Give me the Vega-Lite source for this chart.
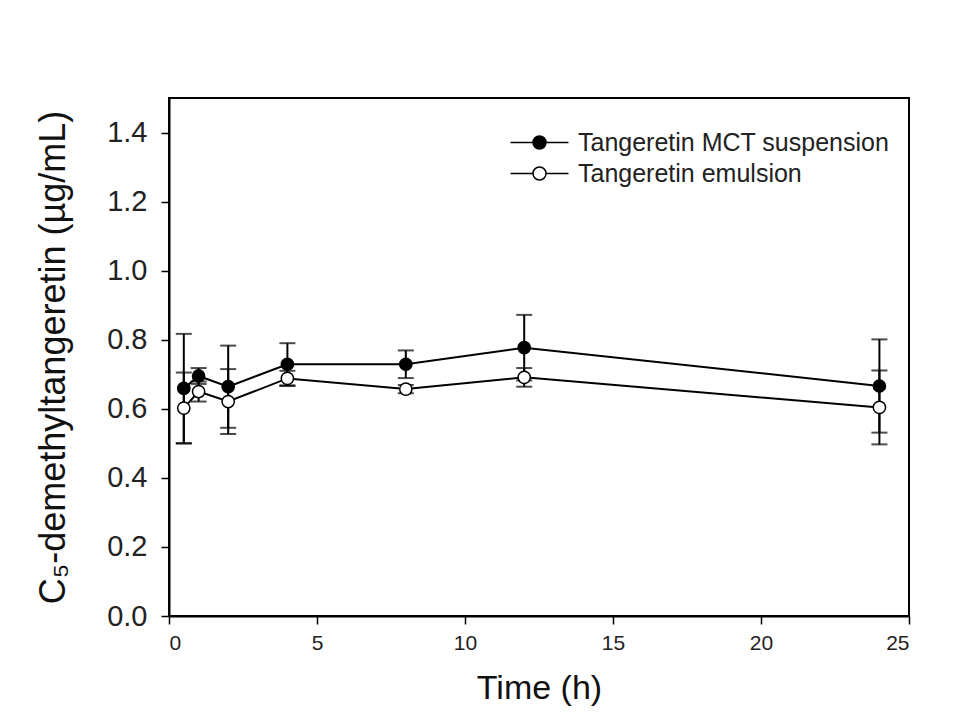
{
  "$schema": "https://vega.github.io/schema/vega-lite/v6.json",
  "width": 740,
  "height": 518,
  "autosize": {"type": "none"},
  "padding": {"left": 169, "top": 98, "right": 63, "bottom": 108},
  "background": "white",
  "config": {
    "view": {"stroke": "black", "strokeWidth": 2},
    "font": "Liberation Sans"
  },
  "data": {
    "values": [
      {"time": 0.5, "series": "Tangeretin MCT suspension", "mean": 0.659, "sd": 0.158},
      {"time": 1, "series": "Tangeretin MCT suspension", "mean": 0.695, "sd": 0.023},
      {"time": 2, "series": "Tangeretin MCT suspension", "mean": 0.664, "sd": 0.119},
      {"time": 4, "series": "Tangeretin MCT suspension", "mean": 0.729, "sd": 0.061},
      {"time": 8, "series": "Tangeretin MCT suspension", "mean": 0.729, "sd": 0.04},
      {"time": 12, "series": "Tangeretin MCT suspension", "mean": 0.777, "sd": 0.095},
      {"time": 24, "series": "Tangeretin MCT suspension", "mean": 0.666, "sd": 0.135},
      {"time": 0.5, "series": "Tangeretin emulsion", "mean": 0.602, "sd": 0.103},
      {"time": 1, "series": "Tangeretin emulsion", "mean": 0.65, "sd": 0.029},
      {"time": 2, "series": "Tangeretin emulsion", "mean": 0.621, "sd": 0.094},
      {"time": 4, "series": "Tangeretin emulsion", "mean": 0.688, "sd": 0.022},
      {"time": 8, "series": "Tangeretin emulsion", "mean": 0.657, "sd": 0.012},
      {"time": 12, "series": "Tangeretin emulsion", "mean": 0.691, "sd": 0.027},
      {"time": 24, "series": "Tangeretin emulsion", "mean": 0.604, "sd": 0.107}
    ]
  },
  "encoding": {
    "x": {
      "field": "time", "type": "quantitative",
      "scale": {"domain": [0, 25], "nice": false, "zero": false},
      "axis": {
        "title": "Time (h)", "values": [0, 5, 10, 15, 20, 25], "grid": false,
        "domainColor": "black", "domainWidth": 2,
        "tickColor": "black", "tickWidth": 1.5, "tickSize": 8,
        "labelFont": "'Liberation Sans Narrow', 'Liberation Sans'", "labelFontSize": 21, "labelColor": "#222", "labelPadding": 8,
        "titleFont": "Liberation Sans", "titleFontSize": 34, "titleFontWeight": "normal", "titleColor": "#111", "titlePadding": 18
      }
    },
    "y": {
      "field": "mean", "type": "quantitative",
      "scale": {"domain": [0, 1.5], "nice": false},
      "axis": {
        "title": "C₅-demethyltangeretin  (µg/mL)", "values": [0, 0.2, 0.4, 0.6, 0.8, 1.0, 1.2, 1.4], "format": ".1f", "grid": false,
        "domainColor": "black", "domainWidth": 2,
        "tickColor": "black", "tickWidth": 1.5, "tickSize": 8,
        "labelFontSize": 29, "labelColor": "#222", "labelPadding": 14,
        "titleFontSize": 36, "titleFontWeight": "normal", "titleColor": "#111", "titlePadding": 34
      }
    }
  },
  "layer": [
    {
      "mark": {"type": "errorbar", "color": "black", "ticks": {"size": 16, "thickness": 2}, "rule": {"strokeWidth": 2}},
      "encoding": {
        "yError": {"field": "sd"},
        "detail": {"field": "series"}
      }
    },
    {
      "mark": {"type": "line", "color": "black", "strokeWidth": 2},
      "encoding": {"detail": {"field": "series"}}
    },
    {
      "mark": {"type": "point", "shape": "circle", "filled": false, "stroke": "black", "strokeWidth": 1.5, "size": 150, "opacity": 1},
      "encoding": {
        "fill": {
          "field": "series", "type": "nominal",
          "scale": {"domain": ["Tangeretin MCT suspension", "Tangeretin emulsion"], "range": ["black", "white"]},
          "legend": {
            "title": null, "orient": "none", "legendX": 358, "legendY": 32, "padding": 0,
            "symbolType": "M-4.46,0H-1M1,0H4.46M-1,0A1,1 0 1,0 1,0A1,1 0 1,0 -1,0Z",
            "symbolSize": 169, "symbolStrokeColor": "black", "symbolStrokeWidth": 1.5, "symbolOpacity": 1,
            "labelFontSize": 25, "labelColor": "#222", "labelOffset": 26, "rowPadding": 5, "labelLimit": 500
          }
        }
      }
    }
  ]
}
